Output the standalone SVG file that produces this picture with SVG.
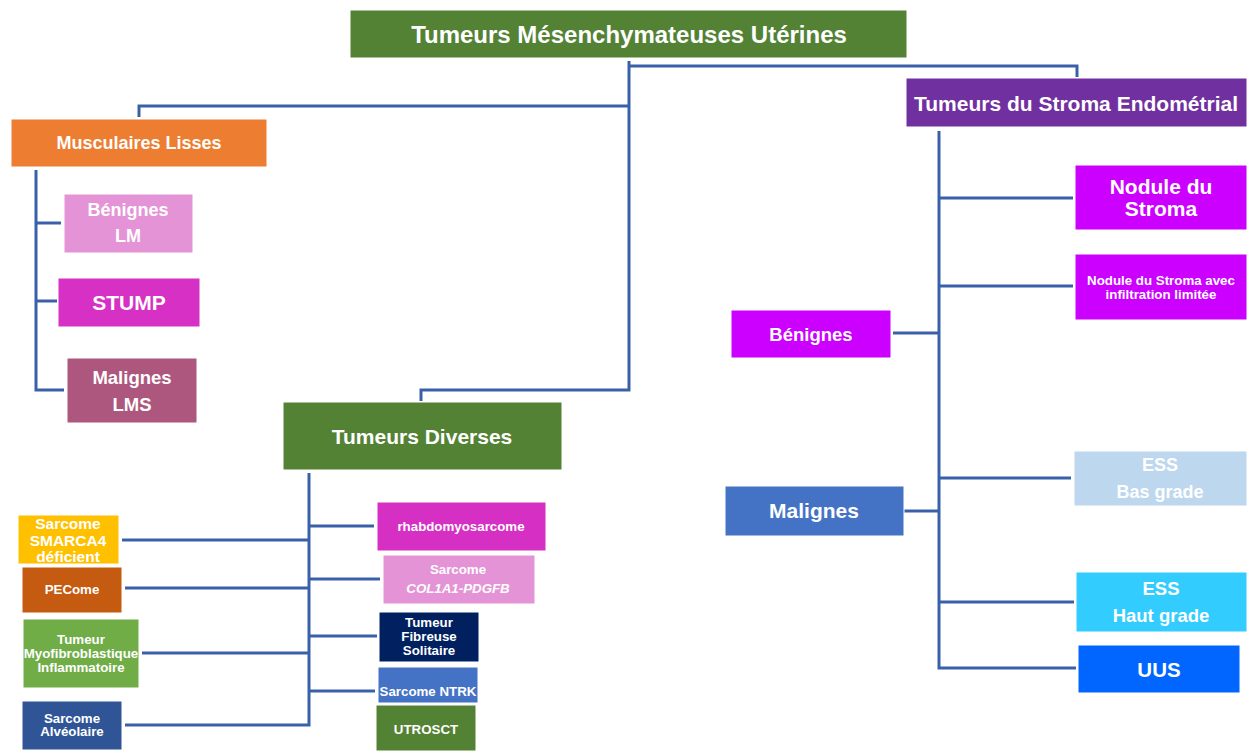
<svg xmlns="http://www.w3.org/2000/svg" width="1247" height="751" viewBox="0 0 1247 751">
<style>
text{font-family:"Liberation Sans",Arial,sans-serif;font-weight:bold;fill:#fff;text-anchor:middle;dominant-baseline:central}
.c{fill:none;stroke:#3A60AA;stroke-width:3}
.b{stroke:#fff;stroke-width:1}
.s{font-size:13.3px}
</style>
<rect width="1247" height="751" fill="#fff"/>
<g id="connectors">
<path class="c" d="M629 61 V390 H421 V401"/>
<path class="c" d="M629 66 H1077 V77"/>
<path class="c" d="M629 106 H139 V117"/>
<path class="c" d="M36 170 V390 H64 M36 223 H61 M36 301 H57"/>
<path class="c" d="M309 473 V725 H125 M309 526 H374 M309 579 H380 M309 636 H377 M309 691 H375 M309 540 H122 M309 588 H125 M309 653 H142"/>
<path class="c" d="M939 131 V668 H1076 M939 198 H1073 M939 286 H1073 M939 478 H1071 M939 602 H1074 M893 333 H939 M904 511 H939"/>
</g>
<g id="n-root"><rect class="b" x="350" y="10" width="557" height="48" fill="#548235"/><text x="629" y="34" font-size="24">Tumeurs Mésenchymateuses Utérines</text></g>
<g id="n-stroma"><rect class="b" x="906" y="78" width="341" height="49" fill="#7030A0"/><text x="1076" y="103" font-size="21">Tumeurs du Stroma Endométrial</text></g>
<g id="n-ml"><rect class="b" x="11" y="119" width="256" height="48" fill="#ED7D31"/><text x="139" y="143" font-size="18">Musculaires Lisses</text></g>
<g id="n-lm"><rect class="b" x="64" y="194" width="129" height="59" fill="#E494D6"/><text x="128" y="210" font-size="18">Bénignes</text><text x="128" y="236" font-size="18">LM</text></g>
<g id="n-stump"><rect class="b" x="58" y="278" width="142" height="49" fill="#D630C4"/><text x="129" y="302" font-size="21">STUMP</text></g>
<g id="n-lms"><rect class="b" x="67" y="358" width="130" height="65" fill="#AD577E"/><text x="132" y="377" font-size="18.5">Malignes</text><text x="132" y="404" font-size="18.5">LMS</text></g>
<g id="n-div"><rect class="b" x="283" y="402" width="279" height="68" fill="#548235"/><text x="422" y="436" font-size="21">Tumeurs Diverses</text></g>
<g id="n-smarca"><rect class="b" x="18" y="515" width="101" height="49" fill="#FFC000"/><text x="68" y="523" font-size="15.5">Sarcome</text><text x="68" y="540" font-size="15.5">SMARCA4</text><text x="68" y="556" font-size="15.5">déficient</text></g>
<g id="n-pec"><rect class="b" x="22" y="567" width="100" height="46" fill="#C55A11"/><text class="s" x="72" y="589">PECome</text></g>
<g id="n-myo"><rect class="b" x="23" y="619" width="116" height="69" fill="#70AD47"/><text class="s" x="81" y="639">Tumeur</text><text class="s" x="81" y="653">Myofibroblastique</text><text class="s" x="81" y="667">Inflammatoire</text></g>
<g id="n-alv"><rect class="b" x="22" y="701" width="100" height="49" fill="#2F5597"/><text class="s" x="72" y="718">Sarcome</text><text class="s" x="72" y="731">Alvéolaire</text></g>
<g id="n-rhab"><rect class="b" x="377" y="502" width="169" height="49" fill="#D62FC4"/><text class="s" x="461" y="526">rhabdomyosarcome</text></g>
<g id="n-col"><rect class="b" x="383" y="555" width="152" height="49" fill="#E494D6"/><text class="s" x="458" y="569">Sarcome</text><text class="s" x="458" y="588" font-style="italic">COL1A1-PDGFB</text></g>
<g id="n-tfs"><rect class="b" x="379" y="612" width="100" height="50" fill="#002060"/><text class="s" x="429" y="622">Tumeur</text><text class="s" x="429" y="636">Fibreuse</text><text class="s" x="429" y="650">Solitaire</text></g>
<g id="n-ntrk"><rect class="b" x="378" y="667" width="100" height="36" fill="#4472C4"/><text class="s" x="428" y="691">Sarcome NTRK</text></g>
<g id="n-utro"><rect class="b" x="376" y="705" width="100" height="46" fill="#548235"/><text class="s" x="426" y="729">UTROSCT</text></g>
<g id="n-nod"><rect class="b" x="1075" y="165" width="172" height="65" fill="#CC00FF"/><text x="1161" y="186" font-size="21">Nodule du</text><text x="1161" y="208" font-size="21">Stroma</text></g>
<g id="n-nodinf"><rect class="b" x="1075" y="254" width="172" height="66" fill="#CC00FF"/><text class="s" x="1161" y="280">Nodule du Stroma avec</text><text class="s" x="1161" y="294">infiltration limitée</text></g>
<g id="n-ben"><rect class="b" x="731" y="310" width="160" height="48" fill="#CC00FF"/><text x="811" y="334" font-size="18.5">Bénignes</text></g>
<g id="n-mal"><rect class="b" x="725" y="486" width="179" height="50" fill="#4472C4"/><text x="814" y="510" font-size="21">Malignes</text></g>
<g id="n-essb"><rect class="b" x="1074" y="451" width="173" height="55" fill="#BDD7EE"/><text x="1160" y="465" font-size="18">ESS</text><text x="1160" y="492" font-size="18">Bas grade</text></g>
<g id="n-essh"><rect class="b" x="1076" y="572" width="171" height="60" fill="#33CCFF"/><text x="1161" y="588" font-size="18.5">ESS</text><text x="1161" y="615" font-size="18.5">Haut grade</text></g>
<g id="n-uus"><rect class="b" x="1078" y="645" width="162" height="48" fill="#0066FF"/><text x="1159" y="669" font-size="20.5">UUS</text></g>
</svg>
